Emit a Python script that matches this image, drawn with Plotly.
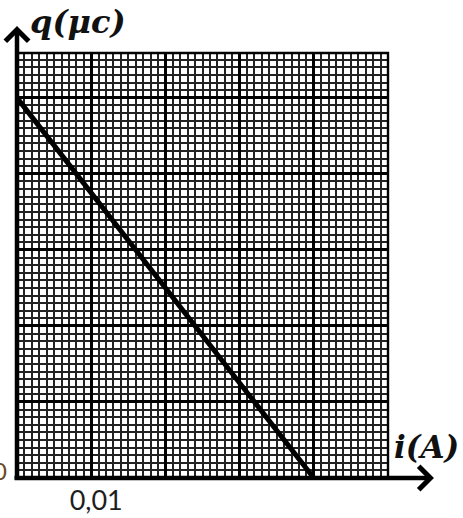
import plotly.graph_objects as go

# data
current_a = [0.0, 0.04]          # i (A)
charge_uc = [50.0, 0.0]          # q, in grid units (10 per major square)
x_major = [0.0, 0.01, 0.02, 0.03, 0.04, 0.05]
x_labels = ["", "0,01", "", "", "", ""]
y_major = [0, 10, 20, 30, 40, 50]

W, H = 463, 518
L, R, T, B = 17, 75, 53, 40
pw, ph = W - L - R, H - T - B


def px_x(x):
    # page pixel -> paper x
    return (x - L) / pw


def px_y(y):
    # page pixel -> paper y
    return (H - B - y) / ph


fig = go.Figure()

# the q(i) line
fig.add_trace(go.Scatter(
    x=current_a,
    y=charge_uc,
    mode="lines",
    line=dict(color="black", width=5),
    hoverinfo="skip",
    showlegend=False,
))

grid_minor = dict(tickmode="linear", showgrid=True, gridcolor="#222222",
                  gridwidth=1.8, ticks="")

fig.update_xaxes(
    range=[0, 0.05],
    tickmode="array",
    tickvals=x_major,
    ticktext=x_labels,
    showgrid=True, gridcolor="black", gridwidth=2.6,
    minor=dict(grid_minor, tick0=0, dtick=0.001),
    zeroline=False, showline=False, ticks="",
    tickfont=dict(family="Lato", size=27, color="#1e1e1e"),
    ticklabelstandoff=4,
    ticklabelshift=5,
    automargin=False,
    fixedrange=True,
)
fig.update_yaxes(
    range=[0, 55.9],
    tickmode="array",
    tickvals=y_major,
    showticklabels=False,
    showgrid=True, gridcolor="black", gridwidth=2.6,
    minor=dict(grid_minor, tick0=0, dtick=1),
    zeroline=False, showline=False, ticks="",
    automargin=False,
    fixedrange=True,
)

# border of the graph paper (top / right)
fig.add_shape(type="rect", xref="paper", yref="paper", x0=0, x1=1, y0=0, y1=1,
              line=dict(color="black", width=2.4), layer="above")

annotations = [
    # y axis arrow
    dict(xref="paper", yref="paper", x=0, y=px_y(26), ax=0, ay=455,
         text="", showarrow=True, arrowhead=4, arrowwidth=4.5, arrowsize=1,
         arrowcolor="black", standoff=0),
    # x axis arrow
    dict(xref="paper", yref="paper", x=px_x(434), y=0, ax=-421, ay=0,
         text="", showarrow=True, arrowhead=4, arrowwidth=4.5, arrowsize=1,
         arrowcolor="black", standoff=0),
    # axis names
    dict(xref="paper", yref="paper", x=px_x(28), y=px_y(22),
         xanchor="left", yanchor="middle", showarrow=False,
         text="<b><i>q(μc)</i></b>",
         font=dict(family="DejaVu Serif", size=32, color="#111")),
    dict(xref="paper", yref="paper", x=px_x(392), y=px_y(447),
         xanchor="left", yanchor="middle", showarrow=False,
         text="<b><i>i(A)</i></b>",
         font=dict(family="DejaVu Serif", size=31, color="#111")),
    # origin label, clipped by the page edge (as in the original)
    dict(xref="paper", yref="paper", x=px_x(9), y=px_y(470),
         xanchor="right", yanchor="middle", showarrow=False,
         text="0", font=dict(family="Lato", size=24, color="#6b4a22")),
]
fig.update_layout(annotations=annotations)

fig.update_layout(
    width=W, height=H,
    margin=dict(l=L, r=R, t=T, b=B, pad=0, autoexpand=False),
    paper_bgcolor="white",
    plot_bgcolor="white",
    showlegend=False,
)

# the page has a default 8px body margin; drop it so the figure sits at 0,0
fig.write_html(
    "out.html",
    config={"displayModeBar": False},
    post_script="document.body.style.margin='0';"
                "document.body.style.overflow='hidden';",
)
